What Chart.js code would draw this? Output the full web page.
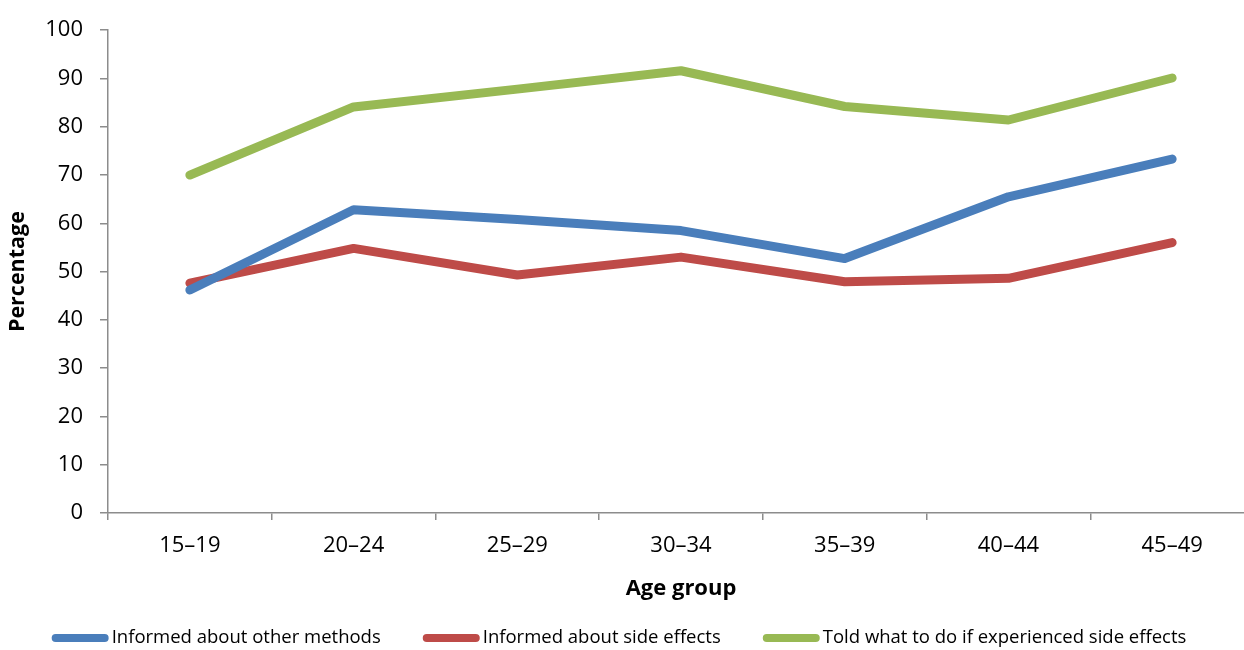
<!DOCTYPE html>
<html>
<head>
<meta charset="utf-8">
<script src="https://cdn.jsdelivr.net/npm/chart.js@4/dist/chart.umd.min.js"></script>
<style>
  html, body { margin: 0; padding: 0; background: #fff; overflow: hidden; }
  #wrap { width: 1258px; height: 650px; }
</style>
</head>
<body>
<div id="wrap"><canvas id="c" width="1258" height="650"></canvas></div>
<script>
const ageGroups = ['15–19', '20–24', '25–29', '30–34', '35–39', '40–44', '45–49'];
const otherMethods = [46.2, 62.8, 60.8, 58.5, 52.7, 65.5, 73.3];
const sideEffects = [47.6, 54.8, 49.3, 53.0, 47.9, 48.6, 56.0];
const toldWhatToDo = [70.0, 84.1, 87.8, 91.6, 84.2, 81.4, 90.1];
const yTicks = [0, 10, 20, 30, 40, 50, 60, 70, 80, 90, 100];

const seriesNames = [
  'Informed about other methods',
  'Informed about side effects',
  'Told what to do if experienced side effects'
];
const seriesColors = ['#4A7EBB', '#BE4B48', '#98B954'];
const axisColor = '#8c8c8c';

// Legend drawn along the bottom: short thick line sample followed by the label.
const bottomLegend = {
  id: 'bottomLegend',
  afterDraw(chart) {
    const ctx = chart.ctx;
    const font = '18.5px "Open Sans"';
    const sample = 57, gap = 3, spacing = 42, y = 638;
    ctx.save();
    ctx.font = font;
    const widths = chart.data.datasets.map(ds => sample + gap + ctx.measureText(ds.label).width);
    const total = widths.reduce((a, b) => a + b, 0) + spacing * (widths.length - 1);
    let x = 619 - total / 2;
    chart.data.datasets.forEach((ds, i) => {
      ctx.strokeStyle = ds.borderColor;
      ctx.lineWidth = 8;
      ctx.lineCap = 'round';
      ctx.beginPath();
      ctx.moveTo(x + 4, y);
      ctx.lineTo(x + sample - 4, y);
      ctx.stroke();
      ctx.fillStyle = '#000';
      ctx.textAlign = 'left';
      ctx.textBaseline = 'middle';
      ctx.fillText(ds.label, x + sample + gap, y);
      x += widths[i] + spacing;
    });
    ctx.restore();
  }
};

const makeSeries = (label, data, color) => ({
  label, data,
  borderColor: color,
  backgroundColor: color,
  borderWidth: 9,
  borderCapStyle: 'round',
  borderJoinStyle: 'round',
  pointRadius: 0,
  pointHoverRadius: 0,
  tension: 0,
  fill: false
});

new Chart(document.getElementById('c'), {
  type: 'line',
  data: {
    labels: ageGroups,
    datasets: [
      makeSeries(seriesNames[0], otherMethods, seriesColors[0]),
      makeSeries(seriesNames[1], sideEffects, seriesColors[1]),
      makeSeries(seriesNames[2], toldWhatToDo, seriesColors[2])
    ]
  },
  options: {
    responsive: false,
    animation: false,
    events: [],
    layout: { padding: { left: 0, right: 4, top: 27, bottom: 47 } },
    plugins: {
      legend: { display: false },
      tooltip: { enabled: false }
    },
    scales: {
      x: {
        offset: true,
        grid: {
          offset: true,
          drawOnChartArea: false,
          drawTicks: true,
          tickLength: 7,
          color: axisColor,
          lineWidth: 1.5
        },
        border: { color: axisColor, width: 1.5 },
        ticks: {
          color: '#000',
          font: { family: '"Open Sans"', size: 22 },
          padding: 13,
          maxRotation: 0
        },
        title: {
          display: true,
          text: 'Age group',
          color: '#000',
          font: { family: '"Open Sans"', size: 22, weight: 'bold' },
          padding: { top: 0, bottom: 1 }
        },
        afterFit(scale) { scale.height = 90; }
      },
      y: {
        min: 0,
        max: 100,
        afterBuildTicks(scale) { scale.ticks = yTicks.map(v => ({ value: v })); },
        grid: {
          drawOnChartArea: false,
          drawTicks: true,
          tickLength: 8,
          color: axisColor,
          lineWidth: 1.5
        },
        border: { color: axisColor, width: 1.5 },
        ticks: {
          color: '#000',
          font: { family: '"Open Sans"', size: 22 },
          padding: 17
        },
        title: {
          display: true,
          text: 'Percentage',
          color: '#000',
          font: { family: '"Open Sans"', size: 21.5, weight: 'bold' },
          padding: { top: 5, bottom: 0 }
        },
        afterFit(scale) { scale.width = 108; }
      }
    }
  },
  plugins: [bottomLegend]
});
</script>
</body>
</html>
